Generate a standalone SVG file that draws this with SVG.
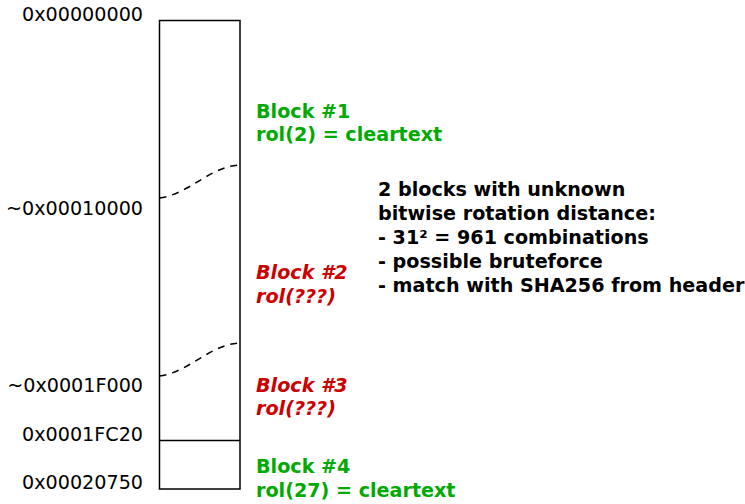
<svg xmlns="http://www.w3.org/2000/svg" width="745" height="504" viewBox="0 0 745 504">
<style>
text{font-family:"DejaVu Sans",sans-serif;font-size:19.15px}
.addr{text-anchor:end;fill:#000}
.g{fill:#00aa00;font-weight:bold}
.r{fill:#cc0000;font-weight:bold;font-style:italic}
.note{fill:#000;font-weight:bold}
.box{fill:#fff;stroke:#000;stroke-width:1.5}
.dash{fill:none;stroke:#000;stroke-width:1.5;stroke-dasharray:7,6}
</style>
<rect width="745" height="504" fill="#fff"/>
<g id="memory">
<rect class="box" x="159.5" y="20.5" width="80.5" height="468.5"/>
</g>
<g id="connectors">
<path class="dash" d="M159.5,198 C190,194 210,166 240,165"/>
<path class="dash" d="M159.5,376 C190,372 210,344 240,343"/>
<line x1="159.5" y1="440.5" x2="240" y2="440.5" stroke="#000" stroke-width="1.5"/>
</g>
<g id="addresses">
<text class="addr" x="143" y="21">0x00000000</text>
<text class="addr" x="143" y="215">~0x00010000</text>
<text class="addr" x="143" y="392">~0x0001F000</text>
<text class="addr" x="143" y="441">0x0001FC20</text>
<text class="addr" x="143" y="489">0x00020750</text>
</g>
<g id="block1"><text class="g" x="256" y="118">Block #1</text><text class="g" x="256" y="141">rol(2) = cleartext</text></g>
<g id="block2"><text class="r" x="256" y="279">Block #2</text><text class="r" x="256" y="303">rol(???)</text></g>
<g id="block3"><text class="r" x="256" y="392">Block #3</text><text class="r" x="256" y="415">rol(???)</text></g>
<g id="block4"><text class="g" x="256" y="473">Block #4</text><text class="g" x="256" y="497">rol(27) = cleartext</text></g>
<g id="note">
<text class="note" x="378" y="196">2 blocks with unknown</text>
<text class="note" x="378" y="220">bitwise rotation distance:</text>
<text class="note" x="378" y="244">- 31² = 961 combinations</text>
<text class="note" x="378" y="268">- possible bruteforce</text>
<text class="note" x="378" y="292">- match with SHA256 from header</text>
</g>
</svg>
